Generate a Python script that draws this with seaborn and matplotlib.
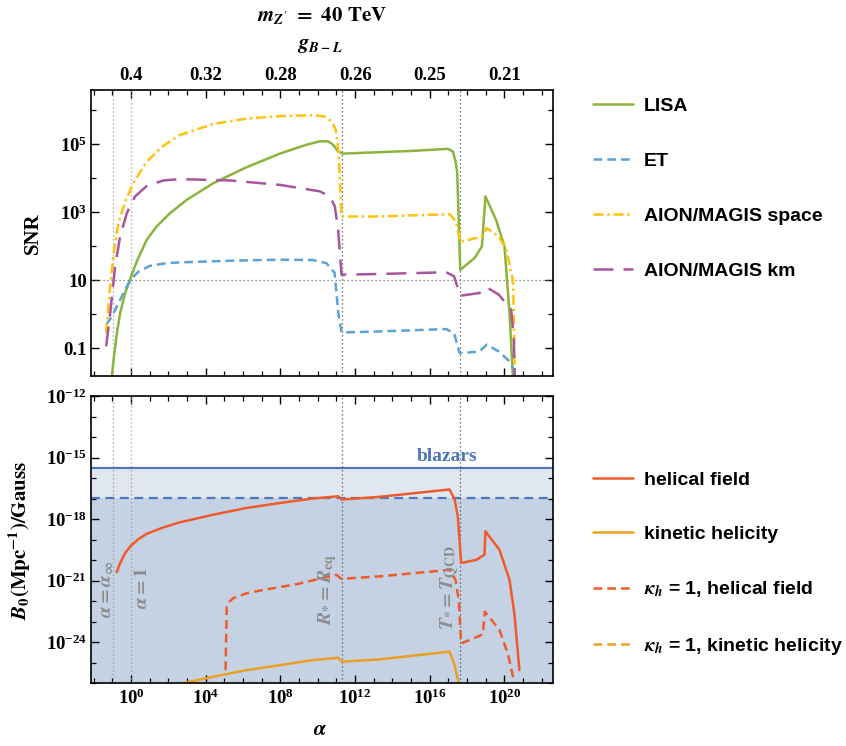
import numpy as np
import seaborn as sns
import matplotlib.pyplot as plt
from matplotlib.ticker import FixedLocator, FixedFormatter, NullFormatter

# values, stored as log10
lisa_lx = [-1.03, -0.94, -0.77, -0.59, -0.32, -0.05, 0.30, 0.84, 1.37, 2.09, 2.98, 4.40, 6.19, 7.97,
           9.39, 10.11, 10.55, 10.82, 11.09, 11.35, 15.1, 16.97, 17.24, 17.4, 17.47, 17.63, 18.4,
           18.79, 18.98, 19.55, 20.0, 20.27, 20.45]
lisa_ly = [-1.8, -1.34, -0.59, 0.03, 0.62, 1.03, 1.55, 2.19, 2.58, 2.97, 3.36, 3.85, 4.32, 4.72,
           4.98, 5.08, 5.08, 4.98, 4.78, 4.72, 4.80, 4.86, 4.78, 4.44, 4.15, 1.30, 1.65,
           1.99, 3.46, 2.77, 1.99, 0.03, -1.8]

et_lx = [-1.34, -1.03, -0.59, -0.05, 0.39, 1.01, 1.91, 2.62, 5.29, 7.97, 9.75, 10.46, 10.9, 11.1,
         11.27, 13.3, 16.88, 17.3, 17.6, 18.66, 19.05, 19.7, 20.27, 20.5, 20.55]
et_ly = [-0.31, -0.07, 0.42, 1.0, 1.25, 1.42, 1.50, 1.52, 1.57, 1.60, 1.59, 1.50, 1.21, 0.03,
         -0.54, -0.51, -0.44, -0.56, -1.15, -1.10, -0.90, -1.10, -1.39, -1.64, -1.9]

space_lx = [-1.34, -1.16, -0.94, -0.68, -0.32, 0.12, 0.84, 1.73, 2.62, 4.40, 6.19, 7.97, 9.75,
            10.37, 10.73, 10.96, 11.12, 11.27, 13.3, 17.06, 17.4, 17.63, 18.77, 19.05, 19.7,
            20.1, 20.45, 20.5, 20.55]
space_ly = [-0.56, 0.62, 1.79, 2.68, 3.31, 3.85, 4.49, 4.95, 5.27, 5.59, 5.75, 5.82, 5.85,
            5.81, 5.67, 5.42, 4.74, 2.87, 2.87, 2.94, 2.73, 2.12, 2.28, 2.53, 2.28,
            1.89, 1.0, 0.03, -1.9]

km_lx = [-1.34, -1.12, -0.86, -0.59, -0.23, 0.21, 0.84, 1.73, 2.62, 5.29, 7.97, 10.11, 10.64,
         10.91, 11.09, 11.27, 13.3, 16.88, 17.3, 17.63, 18.66, 19.05, 19.7, 20.36, 20.5, 20.55]
km_ly = [-0.95, 0.03, 1.40, 2.28, 2.97, 3.46, 3.77, 3.93, 3.97, 3.93, 3.80, 3.61, 3.46,
         3.17, 2.48, 1.16, 1.18, 1.23, 1.11, 0.54, 0.62, 0.79, 0.57, 0.13, -0.75, -1.9]

hel_lx = [-0.77, -0.59, -0.32, -0.05, 0.39, 0.84, 1.73, 2.62, 4.40, 6.19, 7.97, 9.75, 11.1, 11.27,
          13.3, 17.06, 17.33, 17.5, 17.68, 18.5, 18.93, 18.98, 19.73, 20.27, 20.53, 20.8]
hel_ly = [-20.59, -20.15, -19.66, -19.34, -18.98, -18.72, -18.41, -18.16, -17.79, -17.46, -17.22,
          -17.0, -16.89, -17.05, -16.92, -16.56, -17.05, -17.87, -20.15, -19.99, -19.74, -18.6,
          -19.5, -20.97, -22.6, -25.37]

khel_lx = [5.06, 5.12, 5.21, 5.47, 6.19, 7.08, 8.86, 11.0, 11.27, 13.3, 17.06, 17.38, 17.55, 17.68,
           18.84, 18.95, 19.73, 20.18, 20.53]
khel_ly = [-25.37, -22.27, -22.08, -21.86, -21.62, -21.46, -21.18, -20.72, -20.92, -20.8, -20.48,
           -20.97, -21.95, -24.07, -23.63, -22.52, -23.41, -24.56, -26.0]

kin_lx = [1.0, 2.8, 4.40, 6.19, 7.97, 9.75, 11.1, 11.27, 13.3, 17.06, 17.3, 17.55]
kin_ly = [-26.6, -26.0, -25.70, -25.37, -25.13, -24.88, -24.77, -24.96, -24.85, -24.47, -25.05, -26.0]

blazar_solid = 3.2e-16
blazar_dashed = 1.1e-17

alpha_inf, alpha_one, alpha_req, alpha_qcd = 10**-0.96, 1.0, 10**11.27, 10**17.6

x_major = [0, 4, 8, 12, 16, 20]
g_labels = ["0.4", "0.32", "0.28", "0.26", "0.25", "0.21"]
snr_major = [-1, 1, 3, 5]
snr_labels = ["0.1", "10", r"$\mathdefault{10^{3}}$", r"$\mathdefault{10^{5}}$"]
b_major = [-24, -21, -18, -15, -12]

sns.set_style("ticks")
plt.rcParams.update({
    "font.family": ["Liberation Serif", "DejaVu Serif"],
    "font.weight": "bold",
    "mathtext.fontset": "stix",
    "text.color": "black", "axes.labelcolor": "black",
    "xtick.direction": "in", "ytick.direction": "in",
    "xtick.top": True, "ytick.right": True,
    "xtick.major.size": 6, "ytick.major.size": 6,
    "xtick.minor.size": 3.5, "ytick.minor.size": 3.5,
    "xtick.major.width": 1.0, "ytick.major.width": 1.0,
    "xtick.minor.width": 0.9, "ytick.minor.width": 0.9,
    "axes.linewidth": 1.2,
    "axes.edgecolor": "black",
    "xtick.color": "black", "ytick.color": "black",
    "xtick.labelsize": 13.5, "ytick.labelsize": 13.5,
    "ytick.major.pad": 3, "xtick.major.pad": 4,
})

fig = plt.figure(figsize=(8.46, 7.46), dpi=100)
ax1 = fig.add_axes([91/846, 1-376/746, 462/846, 286/746])
ax2 = fig.add_axes([91/846, 1-683/746, 462/846, 287/746])

lw = 1.8
sns.lineplot(x=10**np.array(lisa_lx), y=10**np.array(lisa_ly), ax=ax1, color="#8ab43c", lw=lw,
             sort=False, estimator=None, label="LISA")
sns.lineplot(x=10**np.array(et_lx), y=10**np.array(et_ly), ax=ax1, color="#5aa3d6", lw=lw,
             linestyle=(0, (3.5, 2)), sort=False, estimator=None, label="ET")
sns.lineplot(x=10**np.array(space_lx), y=10**np.array(space_ly), ax=ax1, color="#ffc20e", lw=lw,
             linestyle=(0, (4, 1.5, 1, 1.5)), sort=False, estimator=None, label="AION/MAGIS space")
sns.lineplot(x=10**np.array(km_lx), y=10**np.array(km_ly), ax=ax1, color="#a8559f", lw=lw,
             linestyle=(0, (8, 4)), sort=False, estimator=None, label="AION/MAGIS km")

for a in (ax1, ax2):
    a.set_xscale("log")
    a.set_yscale("log")
    a.set_xlim(10**-2.15, 10**22.6)
    for xv, c in ((alpha_inf, "#9a9a9a"), (alpha_one, "#9a9a9a"), (alpha_req, "#505050"), (alpha_qcd, "#505050")):
        a.axvline(xv, color=c, lw=0.9, linestyle=(0, (1, 2.2)), zorder=1)
    a.xaxis.set_major_locator(FixedLocator([10.0**k for k in x_major]))
    a.xaxis.set_minor_locator(FixedLocator([10.0**k for k in range(-2, 23)]))
    a.xaxis.set_minor_formatter(NullFormatter())
    a.yaxis.set_minor_formatter(NullFormatter())
    a.set_xlabel("")
    a.set_ylabel("")

ax1.axhline(10, color="#707070", lw=0.9, linestyle=(0, (1, 2.2)), zorder=1)
ax1.set_ylim(10**-1.82, 10**6.59)
ax1.yaxis.set_major_locator(FixedLocator([10.0**k for k in snr_major]))
ax1.yaxis.set_major_formatter(FixedFormatter(snr_labels))
ax1.yaxis.set_minor_locator(FixedLocator([10.0**k for k in range(-2, 7)]))
ax1.tick_params(axis="x", which="both", labelbottom=False, labeltop=True)
ax1.xaxis.set_major_formatter(FixedFormatter(g_labels))

# bottom panel
ax2.set_ylim(1e-26, 1e-12)
ax2.axhspan(1e-30, blazar_solid, color="#e1e7f0", zorder=0, lw=0)
ax2.axhspan(1e-30, blazar_dashed, color="#c5d2e4", zorder=0, lw=0)
ax2.axhline(blazar_solid, color="#4f77bb", lw=1.6, zorder=2)
ax2.axhline(blazar_dashed, color="#4f77bb", lw=1.6, linestyle=(0, (4, 2.5)), zorder=2)
ax2.text(10**16.95, 10**-14.95, "blazars", color="#4f77bb", fontsize=14, ha="center", va="center")

sns.lineplot(x=10**np.array(hel_lx), y=10**np.array(hel_ly), ax=ax2, color="#f15a2b", lw=lw,
             sort=False, estimator=None, label="helical field")
sns.lineplot(x=10**np.array(kin_lx), y=10**np.array(kin_ly), ax=ax2, color="#e9a020", lw=lw,
             sort=False, estimator=None, label="kinetic helicity")
sns.lineplot(x=10**np.array(khel_lx), y=10**np.array(khel_ly), ax=ax2, color="#f15a2b", lw=lw,
             linestyle=(0, (3.5, 2)), sort=False, estimator=None, label=r"$\kappa_h$ = 1, helical field")
ax2.plot([], [], color="#e9a020", lw=lw, linestyle=(0, (3.5, 2)), label=r"$\kappa_h$ = 1, kinetic helicity")

ax2.yaxis.set_major_locator(FixedLocator([10.0**k for k in b_major]))
ax2.yaxis.set_major_formatter(FixedFormatter([r"$\mathdefault{10^{%d}}$" % k for k in b_major]))
ax2.yaxis.set_minor_locator(FixedLocator([10.0**k for k in range(-26, -11)]))
ax2.xaxis.set_major_formatter(FixedFormatter([r"$\mathdefault{10^{%d}}$" % k for k in x_major]))

gray = "#8c8c8c"
ax2.text(10**-1.28, 10**-21.44, r"$\alpha=\alpha_{\infty}$", color=gray, fontsize=14, rotation=90,
         ha="center", va="center")
ax2.text(10**0.59, 10**-21.34, r"$\alpha=1$", color=gray, fontsize=14, rotation=90,
         ha="center", va="center")
ax2.text(10**10.53, 10**-21.44, r"$\mathbfit{R}_{\mathbf{*}}\mathbf{=}\mathbfit{R}_{\mathbf{eq}}$",
         color=gray, fontsize=14, rotation=90, ha="center", va="center")
ax2.text(10**17.06, 10**-21.34, r"$\mathbfit{T}_{\mathbf{*}}\mathbf{=}\mathbfit{T}_{\mathbf{QCD}}$",
         color=gray, fontsize=14, rotation=90, ha="center", va="center")

# legends
leg_prop = {"family": "Liberation Sans", "weight": "bold", "size": 14}
for a, ytop, ls in ((ax1, 97, 1.93), (ax2, 471, 1.88)):
    h, l = a.get_legend_handles_labels()
    a.legend(h, l, loc="upper left", bbox_to_anchor=(593/846, 1-ytop/746), bbox_transform=fig.transFigure,
             frameon=False, prop=leg_prop, labelspacing=ls, handlelength=2.05, handletextpad=0.55,
             borderpad=0, borderaxespad=0, labelcolor="black")

# labels
fig.text(33/846, 1-233/746, "SNR", rotation=90, ha="center", va="center", fontsize=15)
fig.text(20/846, 1-540/746, r"$\mathbfit{B}_{\mathbf{0}}\mathbf{(Mpc^{-1})/Gauss}$", rotation=90,
         ha="center", va="center", fontsize=15)
fig.text(320/846, 1-730/746, r"$\alpha$", ha="center", va="center", fontsize=15)
fig.text(320/846, 1-45/746, r"$\mathbfit{g}_{\mathbfit{B-L}}$", ha="center", va="center", fontsize=15)
fig.text(322/846, 1-15/746, r"$\mathbfit{m}_{\mathbfit{Z}'}\mathbf{\ =\ 40\ TeV}$", ha="center",
         va="center", fontsize=15)

fig.savefig("out.png", dpi=100)
